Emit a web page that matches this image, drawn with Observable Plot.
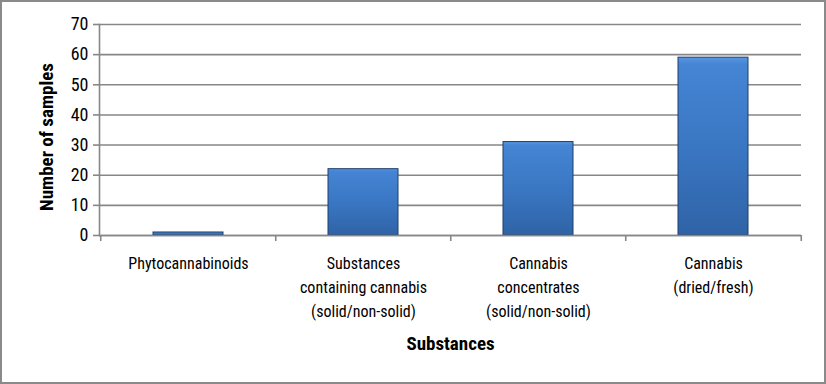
<!DOCTYPE html>
<html>
<head>
<meta charset="utf-8">
<script src="https://cdn.jsdelivr.net/npm/d3@7"></script>
<script src="https://cdn.jsdelivr.net/npm/@observablehq/plot@0.6"></script>
<style>
  html, body { margin: 0; padding: 0; background: #fff; }
  #chart { width: 826px; height: 384px; box-sizing: border-box; border: 2px solid #8a8a8a; overflow: hidden; }
  #chart svg { display: block; font-family: "Liberation Sans Narrow", "Roboto Condensed", "Noto Sans", sans-serif; }
</style>
</head>
<body>
<div id="chart"></div>
<script>
const categories = ["Phytocannabinoids", "Substances\ncontaining cannabis\n(solid/non-solid)", "Cannabis\nconcentrates\n(solid/non-solid)", "Cannabis\n(dried/fresh)"];
const values = [1, 22, 31, 59];
const yTicks = [0, 10, 20, 30, 40, 50, 60, 70];

const data = categories.map((c, i) => ({category: c, value: values[i]}));

const W = 822, H = 380;
const mL = 97, mR = 23, mT = 22, mB = 147;
const bw = (W - mL - mR) / categories.length;
const grid = "#878787";

const plot = Plot.plot({
  width: W,
  height: H,
  marginLeft: mL,
  marginRight: mR,
  marginTop: mT,
  marginBottom: mB,
  style: {fontSize: "16px", color: "#000", background: "#fff"},
  x: {domain: categories, paddingInner: 0.6, paddingOuter: 0.3, label: null},
  y: {domain: [0, 70], label: null},
  marks: [
    Plot.gridY(yTicks, {stroke: grid, strokeOpacity: 1, strokeWidth: 1.6}),
    Plot.barY(data, {x: "category", y: "value", fill: "url(#barGrad)", stroke: "#1e3e6c", strokeWidth: 1}),
    Plot.frame({anchor: "left", stroke: grid, strokeWidth: 1.6}),
    Plot.ruleY([0], {stroke: grid, strokeWidth: 1.6}),
    Plot.ruleX(categories, {x: d => d, y1: 0, y2: -2, dx: -bw / 2, stroke: grid, strokeWidth: 1.6}),
    Plot.ruleX(categories.slice(-1), {x: d => d, y1: 0, y2: -2, dx: bw / 2, stroke: grid, strokeWidth: 1.6}),
    Plot.axisY(yTicks, {tickSize: 6, tickPadding: 5, stroke: grid, strokeWidth: 1.6, fontSize: 18, label: "Number of samples", labelAnchor: "center", labelArrow: "none", labelOffset: 60}),
    Plot.axisX({tickSize: 0, tickPadding: 16, lineHeight: 1.5, fontSize: 16, label: "Substances", labelAnchor: "center", labelArrow: "none", labelOffset: 114})
  ]
});

// gradient definition for the bars
const ns = "http://www.w3.org/2000/svg";
const defs = document.createElementNS(ns, "defs");
defs.innerHTML = `
  <linearGradient id="barGrad" x1="0" y1="0" x2="0" y2="1">
    <stop offset="0" stop-color="#5a97e0"/>
    <stop offset="0.04" stop-color="#4585d4"/>
    <stop offset="0.5" stop-color="#3a77c3"/>
    <stop offset="1" stop-color="#2f63a6"/>
  </linearGradient>`;
plot.insertBefore(defs, plot.firstChild);

// bold, larger axis titles
plot.querySelectorAll("[aria-label='y-axis label'] text, [aria-label='x-axis label'] text").forEach(t => {
  t.setAttribute("font-weight", "bold");
  t.setAttribute("font-size", "19");
});
// nudge the y-axis title down to match the reference centring (keep Plot's own transform)
plot.querySelectorAll("[aria-label='y-axis label']").forEach(g => {
  const tr = g.getAttribute("transform") || "";
  g.setAttribute("transform", "translate(0,7) " + tr);
});

document.getElementById("chart").appendChild(plot);
</script>
</body>
</html>
